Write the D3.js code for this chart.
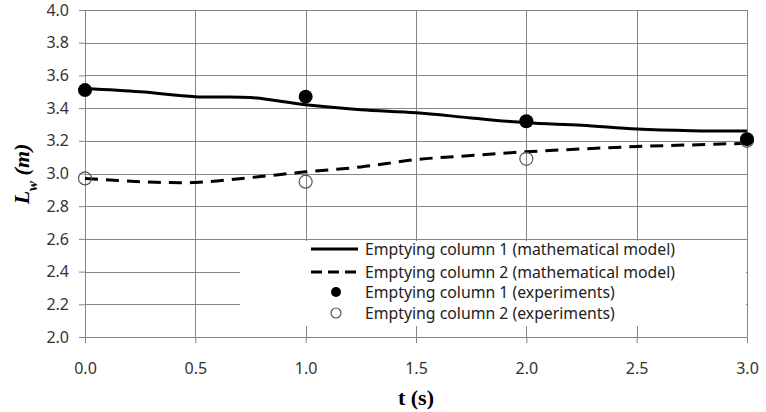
<!doctype html>
<html lang="en">
<head>
<meta charset="utf-8">
<title>Lw vs t</title>
<script src="https://cdn.jsdelivr.net/npm/d3@7"></script>
<style>
html, body { margin: 0; padding: 0; background: #fff; }
svg { display: block; }
.tick text { font-family: "Noto Sans", sans-serif; font-size: 16px; fill: #333; }
.legend text { font-family: "Noto Sans", sans-serif; font-size: 15.8px; fill: #222; }
</style>
</head>
<body>
<svg id="chart" width="766" height="412"></svg>
<script>
// model curves
const modelT = [0, 0.25, 0.5, 0.75, 1.0, 1.25, 1.5, 1.75, 2.0, 2.25, 2.5, 2.75, 3.0];
const model1 = [3.52, 3.50, 3.47, 3.465, 3.42, 3.39, 3.372, 3.34, 3.31, 3.295, 3.272, 3.262, 3.26];
const model2 = [2.97, 2.95, 2.945, 2.975, 3.01, 3.04, 3.085, 3.11, 3.133, 3.15, 3.165, 3.175, 3.185];
// experiments
const expT = [0, 1, 2, 3];
const exp1 = [3.51, 3.47, 3.32, 3.21];
const exp2 = [2.97, 2.95, 3.09, 3.20];
const xTicks = [0, 0.5, 1, 1.5, 2, 2.5, 3];
const yTicks = [2.0, 2.2, 2.4, 2.6, 2.8, 3.0, 3.2, 3.4, 3.6, 3.8, 4.0];
const legendLabels = [
  "Emptying column 1 (mathematical model)",
  "Emptying column 2 (mathematical model)",
  "Emptying column 1 (experiments)",
  "Emptying column 2 (experiments)"
];

const margin = {top: 10, left: 85, right: 19, bottom: 75};
const width = 766 - margin.left - margin.right,
      height = 412 - margin.top - margin.bottom;

const svg = d3.select("#chart");
const g = svg.append("g").attr("transform", `translate(${margin.left},${margin.top})`);

const x = d3.scaleLinear().domain([0, 3]).range([0, width]);
const y = d3.scaleLinear().domain([2, 4]).range([height, 0]);

const gridColor = "#858585";

// gridlines
g.append("g").selectAll("line").data(yTicks).join("line")
  .attr("x1", 0).attr("x2", width)
  .attr("y1", d => Math.round(y(d)) + 0.5).attr("y2", d => Math.round(y(d)) + 0.5)
  .attr("stroke", gridColor).attr("stroke-width", 1);
g.append("g").selectAll("line").data(xTicks).join("line")
  .attr("x1", d => Math.round(x(d)) + 0.5).attr("x2", d => Math.round(x(d)) + 0.5)
  .attr("y1", 0).attr("y2", height)
  .attr("stroke", gridColor).attr("stroke-width", 1);

// axes
const xAxis = g.append("g").attr("transform", `translate(0,${height})`)
  .call(d3.axisBottom(x).tickValues(xTicks).tickFormat(d3.format(".1f")).tickSize(6).tickPadding(20));
const yAxis = g.append("g")
  .call(d3.axisLeft(y).tickValues(yTicks).tickFormat(d3.format(".1f")).tickSize(6).tickPadding(10));
[xAxis, yAxis].forEach(a => {
  a.select(".domain").attr("stroke", gridColor);
  a.selectAll(".tick line").attr("stroke", gridColor);
});

// legend background (hides gridlines behind it)
const legend = g.append("g").attr("class", "legend");
legend.append("rect")
  .attr("x", 155).attr("y", 231).attr("width", width - 156).attr("height", 85)
  .attr("fill", "#fff");

// model curves
const line = d3.line().x(d => x(d[0])).y(d => y(d[1])).curve(d3.curveCatmullRom.alpha(0.5));
g.append("path").datum(modelT.map((t, i) => [t, model1[i]]))
  .attr("d", line).attr("fill", "none").attr("stroke", "#000").attr("stroke-width", 3);
g.append("path").datum(modelT.map((t, i) => [t, model2[i]]))
  .attr("d", line).attr("fill", "none").attr("stroke", "#000").attr("stroke-width", 3)
  .attr("stroke-dasharray", "13,8");

// experiment markers
g.append("g").selectAll("circle").data(expT.map((t, i) => [t, exp2[i]])).join("circle")
  .attr("cx", d => x(d[0])).attr("cy", d => y(d[1])).attr("r", 6.5)
  .attr("fill", "#fff").attr("fill-opacity", 0).attr("stroke", "#555").attr("stroke-width", 1.2);
g.append("g").selectAll("circle").data(expT.map((t, i) => [t, exp1[i]])).join("circle")
  .attr("cx", d => x(d[0])).attr("cy", d => y(d[1])).attr("r", 7).attr("fill", "#000");

// legend entries
const rowY = [239, 262, 282, 303];
const sampleX0 = 226, sampleX1 = 273, textX = 280;
legend.append("line").attr("x1", sampleX0).attr("x2", sampleX1).attr("y1", rowY[0]).attr("y2", rowY[0])
  .attr("stroke", "#000").attr("stroke-width", 3);
legend.append("line").attr("x1", sampleX0).attr("x2", sampleX1).attr("y1", rowY[1]).attr("y2", rowY[1])
  .attr("stroke", "#000").attr("stroke-width", 3).attr("stroke-dasharray", "11,6");
legend.append("circle").attr("cx", 251).attr("cy", rowY[2]).attr("r", 5).attr("fill", "#000");
legend.append("circle").attr("cx", 251).attr("cy", rowY[3]).attr("r", 5)
  .attr("fill", "#fff").attr("stroke", "#555").attr("stroke-width", 1.2);
legend.selectAll("text").data(legendLabels).join("text")
  .attr("x", textX).attr("y", (d, i) => rowY[i]).attr("dy", "0.35em").text(d => d);

// axis titles
svg.append("text")
  .attr("x", margin.left + x(1.5)).attr("y", 405)
  .attr("text-anchor", "middle")
  .style("font-family", "'Liberation Serif', 'Times New Roman', serif")
  .style("font-weight", "bold").style("font-size", "22px")
  .text("t (s)");

const yTitle = svg.append("text")
  .attr("transform", "translate(29,174) rotate(-90)")
  .attr("text-anchor", "middle")
  .style("font-family", "'Liberation Serif', 'Times New Roman', serif")
  .style("font-weight", "bold").style("font-style", "italic").style("font-size", "22px");
yTitle.append("tspan").text("L");
yTitle.append("tspan").attr("baseline-shift", "sub").style("font-size", "15px").text("w");
yTitle.append("tspan").text(" (m)");
</script>
</body>
</html>
